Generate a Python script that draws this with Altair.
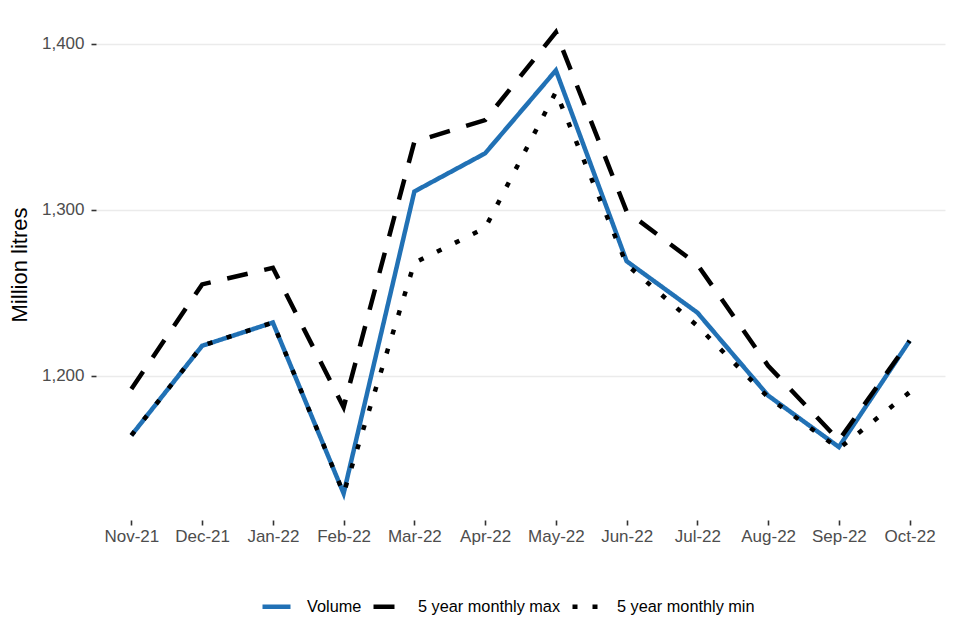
import altair as alt
import pandas as pd

months = ["Nov-21", "Dec-21", "Jan-22", "Feb-22", "Mar-22", "Apr-22",
          "May-22", "Jun-22", "Jul-22", "Aug-22", "Sep-22", "Oct-22"]
volume = [1164, 1218, 1232, 1129, 1311, 1334, 1384, 1269, 1238, 1188, 1157, 1221]
max5 = [1192, 1255, 1265, 1181, 1341, 1354, 1407, 1299, 1267, 1206, 1161, 1221]
min5 = [1164, 1218, 1232, 1129, 1268, 1289, 1371, 1267, 1230, 1187, 1156, 1190]
series_names = ["Volume", "5 year monthly max", "5 year monthly min"]
series_colors = ["#2171b5", "#000000", "#000000"]
series_dashes = [[1, 0], [21, 17], [5, 15]]

rows = []
for name, vals in zip(series_names, [volume, max5, min5]):
    for m, v in zip(months, vals):
        rows.append({"month": m, "value": v, "series": name})
df = pd.DataFrame(rows)

FONT = "Liberation Sans"

legend_def = dict(
    title=None, orient="none", direction="horizontal",
    legendX=164, legendY=581,
    labelFontSize=16.3, labelColor="#000000", labelFont=FONT,
    symbolType="stroke", symbolSize=784, symbolStrokeWidth=4.5,
    labelOffset=14, columnPadding=2, padding=0,
)

base = alt.Chart(df).encode(
    x=alt.X("month:N", sort=months,
            scale=alt.Scale(type="point", padding=0.5),
            axis=alt.Axis(title=None, labelAngle=0, domain=False, grid=False,
                          tickColor="#333333", tickSize=5, tickWidth=1.6,
                          labelPadding=3, labelColor="#4d4d4d",
                          labelFontSize=17, labelFont=FONT)),
    y=alt.Y("value:Q",
            scale=alt.Scale(domain=[1113, 1421], nice=False, zero=False),
            axis=alt.Axis(values=[1200, 1300, 1400], format=",.0f",
                          title="Million litres", titleFontSize=22,
                          titleFont=FONT, titleFontWeight="normal",
                          titleColor="#000000", titlePadding=10,
                          domain=False, grid=True, gridColor="#ebebeb",
                          gridWidth=1.5, tickColor="#333333", tickSize=5,
                          tickWidth=1.6, labelPadding=7,
                          labelColor="#4d4d4d", labelFontSize=17,
                          labelFont=FONT)),
    color=alt.Color("series:N",
                    scale=alt.Scale(domain=series_names, range=series_colors),
                    legend=alt.Legend(**legend_def)),
    strokeDash=alt.StrokeDash("series:N",
                              scale=alt.Scale(domain=series_names, range=series_dashes),
                              legend=alt.Legend(**legend_def)),
)

layers = [
    base.transform_filter(alt.datum.series == n).mark_line(strokeWidth=4.5, strokeCap="butt")
    for n in series_names
]

chart = alt.layer(*layers).properties(
    width=849, height=511,
    autosize=alt.AutoSizeParams(type="none"),
    padding={"left": 88, "top": 1, "right": 7, "bottom": 120},
).configure(font=FONT).configure_view(stroke=None)

chart.save("out.html", embed_options={"renderer": "svg", "actions": False})
